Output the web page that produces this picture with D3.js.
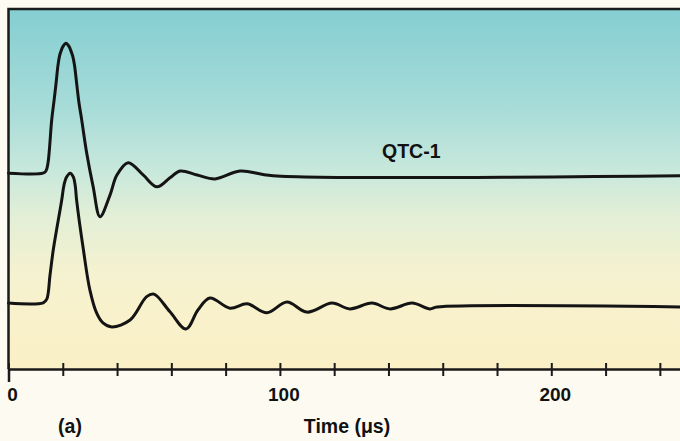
<!DOCTYPE html>
<html lang="en">
<head>
  <meta charset="utf-8">
  <title>QTC-1 waveform</title>
  <script src="https://d3js.org/d3.v7.min.js"></script>
  <style>
    html, body {
      margin: 0;
      padding: 0;
      background: #fdfbf1;
    }
    #chart { display: block; }
    .trace { fill: none; stroke: #141414; stroke-width: 3; stroke-linejoin: round; stroke-linecap: round; }
    .frame { fill: none; stroke: #1a1a1a; stroke-width: 2.5; }
    .lbl { font-family: "Liberation Sans", Arial, sans-serif; font-weight: bold; fill: #111; }
  </style>
</head>
<body>
  <svg id="chart" width="680" height="441"></svg>

  <script>
    // upper trace (QTC-1): time in microseconds, amplitude in relative units
    const upperTime = [0, 12.7, 13.8, 14.55, 15.92, 16.76, 17.5, 18.24, 18.79, 19.34, 20.08, 21.19,
      22.29, 23.03, 23.66, 24.32, 25.13, 25.98, 26.97, 28.81, 31.2, 33.7, 37.4, 39.9, 44.1, 49.6,
      54.7, 59.5, 63.2, 69.5, 76.1, 85.3, 97.5, 250];
    const upperAmp = [54.4, 54.4, 55.0, 57.2, 69.2, 74.4, 79.2, 84.4, 86.9, 88.3, 89.6, 90.5,
      89.6, 88.3, 86.9, 84.4, 79.2, 73.9, 69.2, 60.0, 50.6, 42.3, 48.3, 53.8, 57.3, 53.9,
      50.6, 53.1, 55.0, 53.9, 52.8, 55.0, 53.7, 53.7];

    // lower trace
    const lowerTime = [0, 12.8, 14.1, 15.3, 16.5, 19.6, 20.45, 21.4, 22.7, 23.92, 24.61, 25.1, 27.6,
      30.0, 32.5, 34.8, 38.1, 44.8, 50.9, 53.6, 59.5, 65.4, 69.8, 74.2, 81.6, 87.9, 95.2, 102.6, 110.0,
      119.2, 125.8, 133.9, 140.6, 148.7, 155.3, 157.9, 250];
    const lowerAmp = [18.3, 18.4, 19.4, 26.1, 33.1, 46.9, 51.1, 53.3, 54.4, 53.3, 50.8, 46.9, 33.1,
      21.9, 15.5, 12.8, 11.7, 13.6, 20.1, 20.8, 15.9, 11.1, 16.4, 19.7, 16.9, 18.1, 15.6, 18.6, 15.8,
      18.3, 16.7, 18.3, 16.7, 18.3, 16.7, 17.2, 17.2];

    const tickTimes = d3.range(0, 260, 20);
    const labelTimes = [0, 100, 200];
    const traceLabel = 'QTC-1';
    const panelLabel = '(a)';
    const axisTitle = 'Time (\u03bcs)';

    const svg = d3.select('#chart');
    const x = d3.scaleLinear().domain([0, 250]).range([8.5, 687]);
    const y = d3.scaleLinear().domain([0, 100]).range([369, 9]);

    // background gradient inside the frame
    const grad = svg.append('defs').append('linearGradient')
      .attr('id', 'bg').attr('x1', 0).attr('x2', 0).attr('y1', 0).attr('y2', 1);
    [['0%', '#84ced2'], ['28%', '#a8dcd8'], ['45%', '#c8e8dc'], ['58%', '#e3efd6'],
     ['75%', '#f6f2cf'], ['100%', '#fbf0c6']]
      .forEach(([o, c]) => grad.append('stop').attr('offset', o).attr('stop-color', c));

    svg.append('rect')
      .attr('x', x(0)).attr('y', y(100))
      .attr('width', x(250) - x(0)).attr('height', y(0) - y(100))
      .attr('fill', 'url(#bg)');

    const line = d3.line()
      .x(d => x(d[0]))
      .y(d => y(d[1]))
      .curve(d3.curveCatmullRom.alpha(0.5));

    svg.append('path').attr('class', 'trace')
      .attr('d', line(d3.zip(upperTime, upperAmp)));
    svg.append('path').attr('class', 'trace')
      .attr('d', line(d3.zip(lowerTime, lowerAmp)));

    // frame: top and left edges, bottom is the axis
    svg.append('path').attr('class', 'frame')
      .attr('d', `M${x(250)},${y(100)}H${x(0)}V${y(0)}`);

    const axis = svg.append('g')
      .attr('transform', `translate(0,${y(0)})`)
      .call(d3.axisBottom(x)
        .tickValues(tickTimes)
        .tickSize(13)
        .tickFormat(d => labelTimes.includes(d) ? d : ''));
    axis.select('.domain').attr('stroke', '#1a1a1a').attr('stroke-width', 2.5);
    axis.selectAll('.tick line')
      .attr('y1', -6).attr('y2', 7)
      .attr('stroke', '#1a1a1a').attr('stroke-width', 2);
    axis.selectAll('.tick text')
      .attr('class', 'lbl')
      .attr('font-size', 19)
      .attr('dx', 3.5)
      .attr('y', 32).attr('dy', 0);

    svg.append('text').attr('class', 'lbl')
      .attr('x', 382).attr('y', 158)
      .attr('font-size', 19.5)
      .text(traceLabel);

    svg.append('text').attr('class', 'lbl')
      .attr('x', 70).attr('y', 433)
      .attr('text-anchor', 'middle')
      .attr('font-size', 19.5)
      .text(panelLabel);

    svg.append('text').attr('class', 'lbl')
      .attr('x', 347).attr('y', 433)
      .attr('text-anchor', 'middle')
      .attr('font-size', 19.5)
      .text(axisTitle);
  </script>
</body>
</html>
